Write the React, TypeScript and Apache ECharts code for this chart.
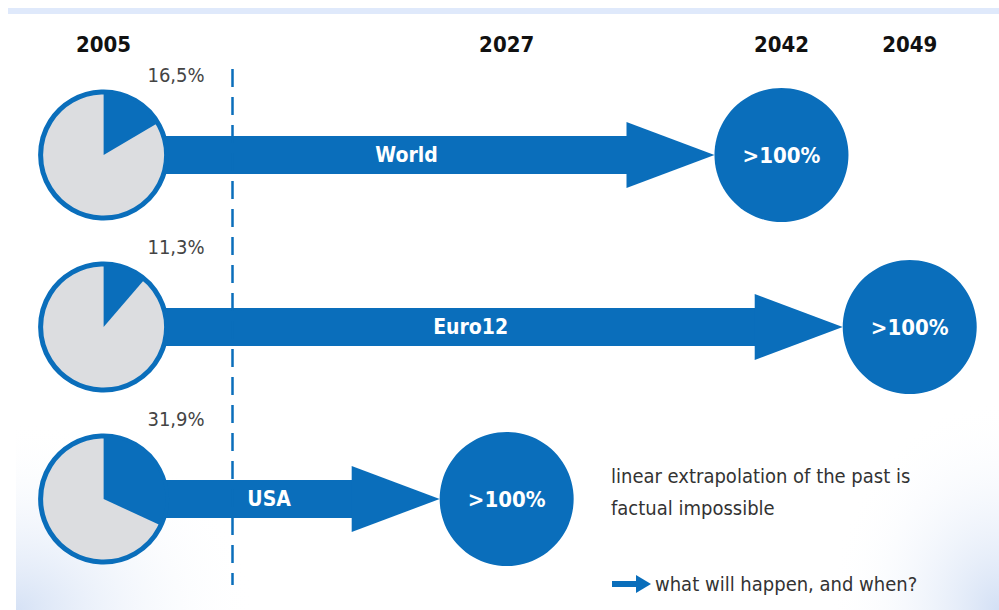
import React, { useEffect, useRef } from "react";
import * as echarts from "echarts";

// ---- data ----
const rows = ["World", "Euro12", "USA"];
const baseYear = 2005;
const shares2005 = [16.5, 11.3, 31.9]; // % in 2005
const targetYears = [2042, 2049, 2027]; // year in which >100% is reached
const targetLabel = ">100%";
const yearTicks = [2005, 2027, 2042, 2049];
const referenceLineYear = 2012;
const noteLines = ["linear extrapolation of the past is", "factual impossible"];
const questionText = "what will happen, and when?";

// ---- style ----
const BLUE = "#0a6ebb";
const GRAY = "#dcdde0";
const FONT = '"DejaVu Sans Condensed", "Liberation Sans Narrow", sans-serif';
const PIE_R = 63;
const TARGET_R = 67;
const SHAFT_H = 19;
const HEAD_H = 33;
const HEAD_LEN = 88;

export default function App() {
  const ref = useRef<HTMLDivElement>(null);
  useEffect(() => {
    if (!ref.current) return;
    const chart = echarts.init(ref.current, null, { renderer: "svg" });
    const option: any = {
      animation: false,
      backgroundColor: "#ffffff",
      grid: { left: 12, right: 16, top: 69, bottom: 25 },
      xAxis: {
        type: "value",
        position: "top",
        min: 2000,
        max: 2053,
        interval: 1,
        axisLine: { show: false },
        axisTick: { show: false },
        splitLine: { show: false },
        axisLabel: {
          margin: 14,
          color: "#111111",
          fontWeight: "bold",
          fontSize: 22,
          fontFamily: FONT,
          formatter: (v: number) => (yearTicks.includes(v) ? String(v) : ""),
        },
      },
      yAxis: {
        type: "category",
        data: rows,
        inverse: true,
        show: false,
      },
      graphic: [
        {
          type: "rect",
          z: 0,
          shape: { x: 8, y: 8, width: 991, height: 6 },
          style: { fill: "#dfe9fb" },
        },
        {
          type: "rect",
          z: 0,
          shape: { x: 16, y: 420, width: 240, height: 190 },
          style: {
            fill: new echarts.graphic.RadialGradient(0, 1, 1, [
              { offset: 0, color: "rgba(200,216,242,0.75)" },
              { offset: 1, color: "rgba(255,255,255,0)" },
            ]),
          },
        },
        {
          type: "rect",
          z: 0,
          shape: { x: 830, y: 400, width: 169, height: 210 },
          style: {
            fill: new echarts.graphic.RadialGradient(1, 1, 1, [
              { offset: 0, color: "rgba(200,216,242,0.8)" },
              { offset: 1, color: "rgba(255,255,255,0)" },
            ]),
          },
        },
        {
          type: "text",
          z: 5,
          x: 611,
          y: 476,
          style: {
            text: noteLines[0],
            fill: "#333",
            fontSize: 20,
            fontFamily: FONT,
            verticalAlign: "middle",
          },
        },
        {
          type: "text",
          z: 5,
          x: 611,
          y: 508,
          style: {
            text: noteLines[1],
            fill: "#333",
            fontSize: 20,
            fontFamily: FONT,
            verticalAlign: "middle",
          },
        },
        {
          type: "rect",
          z: 5,
          shape: { x: 612, y: 581, width: 26, height: 6 },
          style: { fill: BLUE },
        },
        {
          type: "polygon",
          z: 5,
          shape: { points: [[636, 575], [651, 584], [636, 593]] },
          style: { fill: BLUE },
        },
        {
          type: "text",
          z: 5,
          x: 655,
          y: 584,
          style: {
            text: questionText,
            fill: "#333",
            fontSize: 20,
            fontFamily: FONT,
            verticalAlign: "middle",
          },
        },
      ],
      series: [
        {
          type: "scatter",
          z: 1,
          data: rows.map((_, i) => [targetYears[i], i]),
          symbol: "circle",
          symbolSize: TARGET_R * 2,
          itemStyle: { color: BLUE, opacity: 1 },
          label: {
            show: true,
            position: "inside",
            formatter: () => targetLabel,
            color: "#ffffff",
            fontSize: 22,
            fontWeight: "bold",
            fontFamily: FONT,
          },
          silent: true,
          markLine: {
            silent: true,
            symbol: "none",
            label: { show: false },
            lineStyle: { color: BLUE, type: [18, 10], width: 2.5 },
            data: [{ xAxis: referenceLineYear }],
          },
        },
        {
          type: "custom",
          z: 2,
          silent: true,
          data: rows.map((_, i) => [baseYear, i, targetYears[i]]),
          encode: { x: [0, 2], y: 1 },
          renderItem: (params: any, api: any) => {
            const row = api.value(1);
            const p0 = api.coord([api.value(0), row]);
            const p1 = api.coord([api.value(2), row]);
            const cy = p0[1];
            const tip = p1[0] - TARGET_R;
            const base = tip - HEAD_LEN;
            const labelX = (p0[0] + PIE_R + base) / 2 + 10;
            return {
              type: "group",
              children: [
                {
                  type: "rect",
                  shape: { x: p0[0], y: cy - SHAFT_H, width: base - p0[0] + 1, height: SHAFT_H * 2 },
                  style: { fill: BLUE },
                },
                {
                  type: "polygon",
                  shape: { points: [[base, cy - HEAD_H], [tip, cy], [base, cy + HEAD_H]] },
                  style: { fill: BLUE },
                },
                {
                  type: "text",
                  x: labelX,
                  y: cy,
                  style: {
                    text: rows[params.dataIndex],
                    fill: "#ffffff",
                    fontSize: 21,
                    fontWeight: "bold",
                    fontFamily: FONT,
                    align: "center",
                    verticalAlign: "middle",
                  },
                },
              ],
            };
          },
        },
        {
          type: "custom",
          z: 3,
          silent: true,
          data: rows.map((_, i) => [baseYear, i, shares2005[i]]),
          encode: { x: 0, y: 1 },
          renderItem: (params: any, api: any) => {
            const c = api.coord([api.value(0), api.value(1)]);
            const share = api.value(2);
            const start = -Math.PI / 2;
            return {
              type: "group",
              children: [
                {
                  type: "circle",
                  shape: { cx: c[0], cy: c[1], r: PIE_R },
                  style: { fill: GRAY, stroke: BLUE, lineWidth: 5 },
                },
                {
                  type: "sector",
                  shape: {
                    cx: c[0],
                    cy: c[1],
                    r0: 0,
                    r: PIE_R - 1,
                    startAngle: start,
                    endAngle: start + (2 * Math.PI * share) / 100,
                    clockwise: true,
                  },
                  style: { fill: BLUE },
                },
                {
                  type: "text",
                  x: c[0] + 101,
                  y: c[1] - 80,
                  style: {
                    text: share.toFixed(1).replace(".", ",") + "%",
                    fill: "#444444",
                    fontSize: 20,
                    fontFamily: FONT,
                    align: "right",
                    verticalAlign: "middle",
                  },
                },
              ],
            };
          },
        },
      ],
    };
    chart.setOption(option);
    return () => chart.dispose();
  }, []);
  return (
    <div
      ref={ref}
      style={{ position: "absolute", left: 0, top: 0, width: 999, height: 610 }}
    />
  );
}
